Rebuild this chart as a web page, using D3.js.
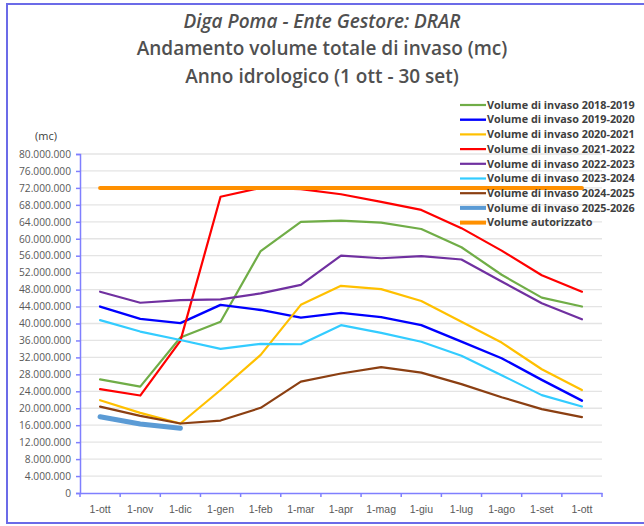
<!DOCTYPE html>
<html>
<head>
<meta charset="utf-8">
<script src="https://cdn.jsdelivr.net/npm/d3@7"></script>
<style>
  body { margin: 0; background: #fff; }
  svg { display: block; font-family: "Open Sans", "Noto Sans", sans-serif; }
</style>
</head>
<body>
<div id="chart"></div>
<script>
'use strict';

// categories (hydrological year, 1 ott -> 1 ott)
const categories = ['1-ott', '1-nov', '1-dic', '1-gen', '1-feb', '1-mar', '1-apr',
    '1-mag', '1-giu', '1-lug', '1-ago', '1-set', '1-ott'];

// volumes in millions of mc
const v2018 = [26.8, 25.1, 36.7, 40.4, 57.1, 64.0, 64.3, 63.8, 62.3, 58.0, 51.5, 46.1, 44.0];
const v2019 = [44.0, 41.1, 40.1, 44.4, 43.2, 41.4, 42.5, 41.5, 39.6, 35.7, 31.8, 26.7, 21.8];
const v2020 = [21.9, 18.9, 16.4, 24.3, 32.6, 44.4, 48.9, 48.1, 45.3, 40.4, 35.5, 29.2, 24.3];
const v2021 = [24.5, 23.0, 35.9, 69.9, 72.0, 71.7, 70.5, 68.7, 66.8, 62.5, 57.2, 51.4, 47.5];
const v2022 = [47.5, 44.9, 45.5, 45.7, 47.1, 49.1, 56.0, 55.4, 55.9, 55.1, 49.9, 44.8, 41.0];
const v2023 = [40.8, 38.1, 36.1, 34.0, 35.2, 35.1, 39.6, 37.8, 35.7, 32.4, 27.8, 23.1, 20.4];
const v2024 = [20.4, 18.2, 16.4, 17.1, 20.1, 26.3, 28.2, 29.7, 28.4, 25.7, 22.6, 19.8, 17.9];
const v2025 = [18.0, 16.3, 15.3];
const autorizzato = [72, 72, 72, 72, 72, 72, 72, 72, 72, 72, 72, 72, 72];

const seriesNames = ['Volume di invaso 2018-2019', 'Volume di invaso 2019-2020',
    'Volume di invaso 2020-2021', 'Volume di invaso 2021-2022', 'Volume di invaso 2022-2023',
    'Volume di invaso 2023-2024', 'Volume di invaso 2024-2025', 'Volume di invaso 2025-2026',
    'Volume autorizzato'];
const seriesValues = [v2018, v2019, v2020, v2021, v2022, v2023, v2024, v2025, autorizzato];
const seriesColors = ['#70ad47', '#0000ff', '#ffc000', '#ff0000', '#7030a0',
    '#33ccff', '#8b3f12', '#5b9bd5', '#ff9000'];
const seriesWidths = [2.2, 2.4, 2.2, 2.2, 2.2, 2.2, 2.2, 5, 4];

const yTicks = d3.range(0, 80000001, 4000000);

const width = 644, height = 526;
const plot = {left: 80, right: 602, top: 154, bottom: 493};

const svg = d3.select('#chart').append('svg')
    .attr('width', width)
    .attr('height', height);

// outer frame
svg.append('rect')
    .attr('x', 7).attr('y', 4)
    .attr('width', 660).attr('height', 519)
    .attr('fill', '#fff')
    .attr('stroke', '#6b6be8')
    .attr('stroke-width', 2);

// titles
const titles = [
    {text: 'Diga Poma - Ente Gestore: DRAR', y: 28, italic: true},
    {text: 'Andamento volume totale di invaso (mc)', y: 55, italic: false},
    {text: 'Anno idrologico (1 ott - 30 set)', y: 83, italic: false}
];
svg.selectAll('text.title')
    .data(titles)
    .enter().append('text')
    .attr('class', 'title')
    .attr('x', 322)
    .attr('y', d => d.y)
    .attr('text-anchor', 'middle')
    .attr('font-size', 19)
    .attr('font-weight', 600)
    .attr('font-style', d => d.italic ? 'italic' : 'normal')
    .attr('fill', '#505050')
    .text(d => d.text);

const x = d3.scaleBand()
    .domain(d3.range(categories.length))
    .range([plot.left, plot.right]);
const cx = i => x(i) + x.bandwidth() / 2;

const y = d3.scaleLinear()
    .domain([0, 80000000])
    .range([plot.bottom, plot.top]);

const fmt = d3.formatLocale({decimal: ',', thousands: '.', grouping: [3], currency: ['', '']}).format(',');

// grid
svg.append('g')
    .selectAll('line')
    .data(yTicks.slice(1))
    .enter().append('line')
    .attr('x1', plot.left).attr('x2', plot.right)
    .attr('y1', d => y(d)).attr('y2', d => y(d))
    .attr('stroke', '#e4e4e4')
    .attr('stroke-width', 1.3);

// y axis
const yAxis = svg.append('g')
    .attr('transform', `translate(${plot.left},0)`)
    .call(d3.axisLeft(y).tickValues(yTicks).tickFormat(fmt).tickSize(4).tickPadding(5));
yAxis.select('.domain').attr('stroke', '#7f7fff').attr('stroke-width', 1.5);
yAxis.selectAll('.tick line').attr('stroke', '#7f7fff').attr('stroke-width', 1.5);
yAxis.selectAll('.tick text')
    .attr('fill', '#595959')
    .attr('font-size', 10.2)
    .attr('font-family', '"Open Sans", sans-serif');

svg.append('text')
    .attr('x', 46).attr('y', 140)
    .attr('text-anchor', 'middle')
    .attr('font-size', 11)
    .attr('fill', '#404040')
    .text('(mc)');

// x axis: labels at band centres, ticks at band edges
const xAxis = svg.append('g')
    .attr('transform', `translate(0,${plot.bottom})`)
    .call(d3.axisBottom(x).tickFormat(i => categories[i]).tickSize(0).tickPadding(13));
xAxis.select('.domain').attr('stroke', '#7f7fff').attr('stroke-width', 1.5);
xAxis.selectAll('.tick text')
    .attr('fill', '#595959')
    .attr('font-size', 10.5);
xAxis.selectAll('line.edge')
    .data(d3.range(categories.length + 1))
    .enter().append('line')
    .attr('class', 'edge')
    .attr('x1', i => i < categories.length ? x(i) : plot.right)
    .attr('x2', i => i < categories.length ? x(i) : plot.right)
    .attr('y1', 0).attr('y2', 4)
    .attr('stroke', '#7f7fff')
    .attr('stroke-width', 1.5);

// series
const line = d3.line()
    .x((d, i) => cx(i))
    .y(d => y(d * 1e6));

svg.append('g')
    .selectAll('path')
    .data(seriesValues)
    .enter().append('path')
    .attr('d', line)
    .attr('fill', 'none')
    .attr('stroke', (d, i) => seriesColors[i])
    .attr('stroke-width', (d, i) => seriesWidths[i])
    .attr('stroke-linejoin', 'round')
    .attr('stroke-linecap', 'round');

// legend
const legend = svg.append('g')
    .selectAll('g')
    .data(seriesNames)
    .enter().append('g')
    .attr('transform', (d, i) => `translate(460,${105 + i * 14.7})`);
legend.append('line')
    .attr('x1', 0).attr('x2', 26)
    .attr('stroke', (d, i) => seriesColors[i])
    .attr('stroke-width', (d, i) => Math.min(seriesWidths[i], 4));
legend.append('text')
    .attr('x', 27)
    .attr('dy', '0.35em')
    .attr('font-size', 10.8)
    .attr('font-weight', 'bold')
    .attr('fill', '#404040')
    .text(d => d);
</script>
</body>
</html>
